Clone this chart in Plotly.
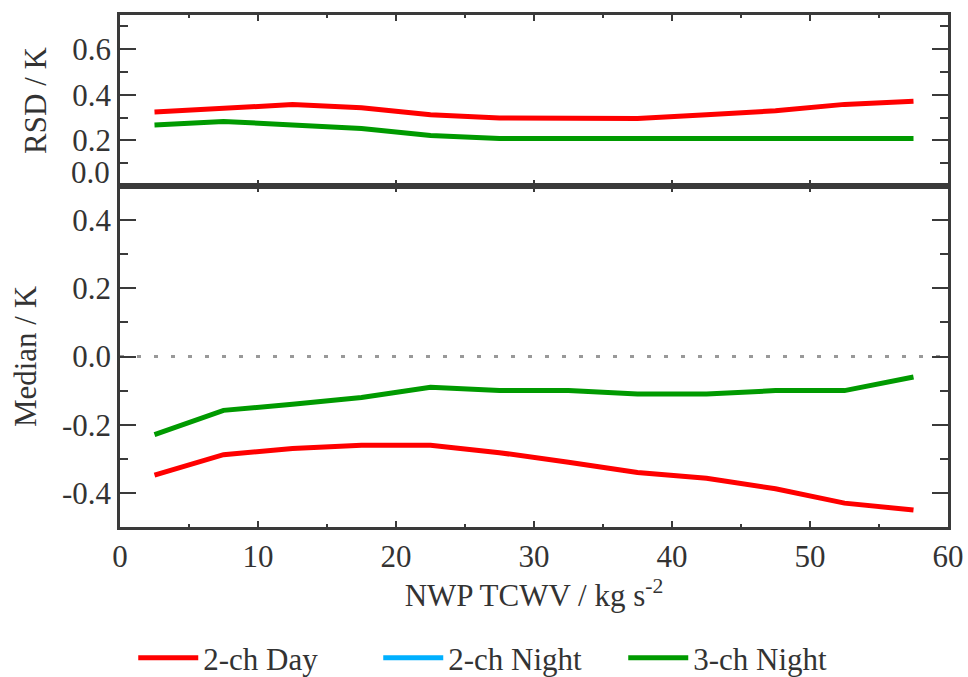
import plotly.graph_objects as go
from plotly.subplots import make_subplots

# TCWV bin centres (kg s^-2)
tcwv = [2.5, 7.5, 12.5, 17.5, 22.5, 27.5, 32.5, 37.5, 42.5, 47.5, 52.5, 57.5]

# Robust standard deviation (K)
rsd_2ch_day = [0.325, 0.343, 0.357, 0.343, 0.313, 0.298, 0.296, 0.296, 0.312, 0.330, 0.358, 0.372]
rsd_3ch_night = [0.268, 0.283, 0.268, 0.252, 0.222, 0.208, 0.208, 0.208, 0.208, 0.208, 0.208, 0.208]
rsd_2ch_night = [None]

# Median difference (K)
med_2ch_day = [-0.348, -0.288, -0.270, -0.260, -0.260, -0.282, -0.310, -0.340, -0.357, -0.388, -0.430, -0.450]
med_3ch_night = [-0.229, -0.158, -0.140, -0.120, -0.090, -0.100, -0.100, -0.110, -0.110, -0.100, -0.100, -0.060]
med_2ch_night = [None]

# Tick labels
x_ticks = [0, 10, 20, 30, 40, 50, 60]
rsd_ticks = [0.0, 0.2, 0.4, 0.6]
rsd_ticktext = ["", "0.2", "0.4", "0.6"]
med_ticks = [-0.4, -0.2, 0.0, 0.2, 0.4]
med_ticktext = ["-0.4", "-0.2", "0.0", "0.2", "0.4"]

series = [
    ("2-ch Day", "#ff0000", rsd_2ch_day, med_2ch_day),
    ("2-ch Night", "#00b0ff", rsd_2ch_night, med_2ch_night),
    ("3-ch Night", "#009a00", rsd_3ch_night, med_3ch_night),
]

fig = make_subplots(rows=2, cols=1, shared_xaxes=True, vertical_spacing=0,
                    row_heights=[0.334, 0.666])

for name, color, rsd, med in series:
    fig.add_trace(go.Scatter(x=tcwv[:len(rsd)] if rsd[0] is not None else [None], y=rsd,
                             mode="lines", name=name,
                             line=dict(color=color, width=5),
                             legendgroup=name, showlegend=True), row=1, col=1)
    fig.add_trace(go.Scatter(x=tcwv[:len(med)] if med[0] is not None else [None], y=med,
                             mode="lines", name=name,
                             line=dict(color=color, width=5),
                             legendgroup=name, showlegend=False), row=2, col=1)

# Zero reference line on the median panel
fig.add_shape(type="line", xref="x2 domain", yref="y2", x0=0, x1=1, y0=0, y1=0,
              line=dict(color="#999999", width=3, dash="4px,13px"), layer="below")

axis_color = "#3a3a3a"
family = "Liberation Serif"
tick_font = dict(family=family, size=31, color="#333333")
title_font = dict(family=family, size=31, color="#333333")
legend_font = dict(family=family, size=31, color="#333333")

common_axis = dict(showline=True, linecolor=axis_color, linewidth=2.5, mirror="allticks",
                   ticks="inside", tickcolor=axis_color, showgrid=False, zeroline=False,
                   tickfont=tick_font, automargin=False)

fig.update_xaxes(range=[0, 60], tickvals=x_ticks, ticklen=6, tickwidth=2,
                 minor=dict(dtick=5, ticks="inside", ticklen=3, tickcolor=axis_color),
                 **common_axis)
fig.update_xaxes(title=dict(text="NWP TCWV / kg s<sup>-2</sup>", font=title_font, standoff=2),
                 automargin=True, row=2, col=1)

fig.update_yaxes(range=[0, 0.75], tickvals=rsd_ticks, ticktext=rsd_ticktext,
                 ticklen=16, tickwidth=2,
                 minor=dict(dtick=0.1, ticks="inside", ticklen=8, tickcolor=axis_color),
                 title=dict(text="RSD / K", font=title_font, standoff=17),
                 row=1, col=1, **common_axis)
fig.update_yaxes(range=[-0.5, 0.5], tickvals=med_ticks, ticktext=med_ticktext,
                 ticklen=16, tickwidth=2,
                 minor=dict(dtick=0.1, ticks="inside", ticklen=8, tickcolor=axis_color),
                 title=dict(text="Median / K", font=title_font, standoff=17),
                 row=2, col=1, **common_axis)

# Lowest RSD label sits just above the panel boundary
fig.add_annotation(text="0.0", xref="paper", yref="y", x=0, y=rsd_ticks[0],
                   xanchor="right", yanchor="middle", xshift=-8, yshift=14,
                   showarrow=False, font=tick_font)

fig.update_layout(
    width=968, height=677,
    margin=dict(l=120, r=20, t=15, b=150, autoexpand=False),
    paper_bgcolor="white", plot_bgcolor="white",
    font=tick_font,
    legend=dict(orientation="h", x=0.016, xanchor="left", y=-0.256, yanchor="middle",
                font=legend_font, itemwidth=60, entrywidth=170, entrywidthmode="pixels",
                bgcolor="rgba(0,0,0,0)"),
)

fig.write_html("out.html")
